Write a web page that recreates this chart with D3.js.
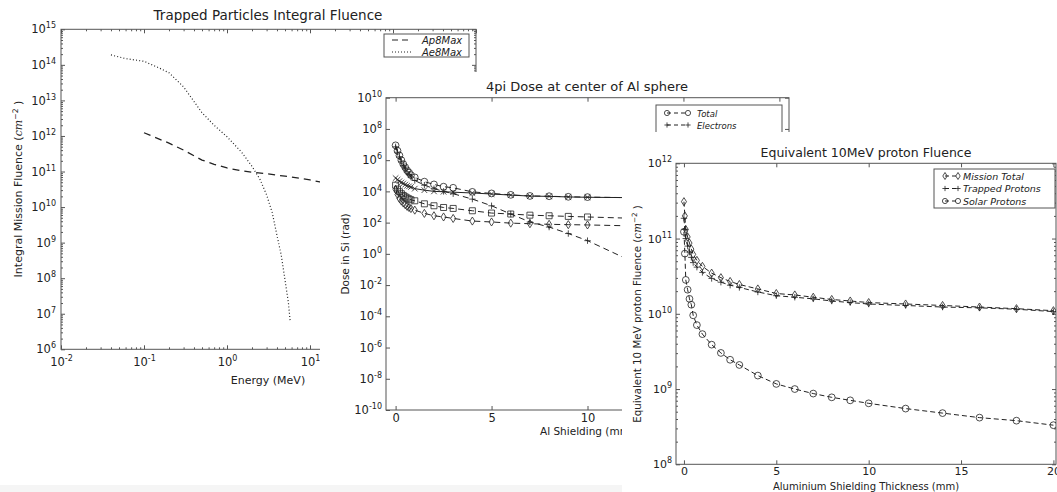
<!DOCTYPE html>
<html>
<head>
<meta charset="utf-8">
<script src="https://cdn.jsdelivr.net/npm/d3@7"></script>
<style>
body { margin: 0; background: #fff; }
svg { display: block; font-family: "DejaVu Sans", sans-serif; }
</style>
</head>
<body>
<svg id="fig" width="1057" height="492"></svg>
<script>
// ---- panel 1: trapped particles integral fluence ----
var electronEnergy = [0.04, 0.06, 0.1, 0.15, 0.2, 0.3, 0.5, 0.7, 1.0, 1.5, 2.0, 2.5, 3.0, 3.5, 4.0, 4.5, 5.0, 5.5, 5.75];
var ae8Fluence = [1.9e14, 1.5e14, 1.26e14, 8.3e13, 6.0e13, 2.4e13, 4.5e12, 2.0e12, 9.5e11, 3.5e11, 1.4e11, 6.0e10, 2.2e10, 7.1e9, 1.6e9, 4.5e8, 8.9e7, 2.0e7, 6.6e6];
var protonEnergy = [0.1, 0.15, 0.2, 0.3, 0.5, 0.7, 1, 1.5, 2, 3, 4, 5, 7, 10, 15, 20];
var ap8Fluence = [1.23e12, 8.3e11, 6.3e11, 4.0e11, 2.1e11, 1.6e11, 1.26e11, 1.05e11, 9.5e10, 8.7e10, 7.9e10, 7.4e10, 6.6e10, 5.8e10, 4.8e10, 4.3e10];

// ---- panel 2: 4pi dose at center of Al sphere ----
var doseThickness = [0, 0.1, 0.2, 0.3, 0.4, 0.5, 0.6, 0.7, 0.8, 1, 1.5, 2, 2.5, 3, 4, 5, 6, 7, 8, 9, 10, 12, 14, 16, 18, 20];
var doseTotal = [8.9e6, 4.0e6, 2.0e6, 1.0e6, 5.6e5, 3.5e5, 2.2e5, 1.6e5, 1.1e5, 7.9e4, 4.2e4, 2.8e4, 2.0e4, 1.7e4, 9.3e3, 7.4e3, 6.0e3, 5.1e3, 4.9e3, 4.5e3, 4.3e3, 4.0e3, 3.7e3, 3.5e3, 3.4e3, 3.2e3];
var doseElectrons = [7.1e6, 3.2e6, 1.6e6, 7.9e5, 4.5e5, 2.8e5, 1.8e5, 1.2e5, 8.3e4, 5.0e4, 2.5e4, 1.5e4, 1.0e4, 7.1e3, 3.2e3, 1.2e3, 355, 110, 52, 20, 7.0, 0.5, 0.05, 0.0063, 0.001, 0.00016];
var doseProtons = [7.1e4, 5.6e4, 4.5e4, 3.7e4, 3.2e4, 2.7e4, 2.3e4, 2.1e4, 1.9e4, 1.5e4, 1.2e4, 1.0e4, 9.5e3, 8.9e3, 7.9e3, 6.8e3, 5.8e3, 5.0e3, 4.8e3, 4.4e3, 4.2e3, 4.0e3, 3.7e3, 3.5e3, 3.4e3, 3.2e3];
var doseSolar = [2.5e4, 1.4e4, 9.5e3, 7.1e3, 5.5e3, 4.5e3, 3.8e3, 3.3e3, 2.9e3, 2.5e3, 1.6e3, 1.2e3, 930, 810, 575, 410, 355, 300, 275, 250, 230, 195, 170, 150, 135, 120];
var doseBrems = [1.3e4, 6.3e3, 3.5e3, 2.4e3, 1.8e3, 1.4e3, 1.1e3, 930, 795, 630, 390, 275, 230, 185, 126, 110, 93, 85, 78, 74, 71, 63, 58, 52, 49, 46];

// ---- panel 3: equivalent 10MeV proton fluence ----
var eqThickness = [0, 0.05, 0.1, 0.2, 0.3, 0.4, 0.5, 0.7, 1, 1.5, 2, 2.5, 3, 4, 5, 6, 7, 8, 9, 10, 12, 14, 16, 18, 20];
var eqMission = [3.09e11, 2.0e11, 1.32e11, 1.05e11, 8.71e10, 7.24e10, 6.17e10, 5.13e10, 4.27e10, 3.47e10, 3.02e10, 2.69e10, 2.45e10, 2.14e10, 1.86e10, 1.78e10, 1.66e10, 1.55e10, 1.48e10, 1.41e10, 1.35e10, 1.29e10, 1.23e10, 1.17e10, 1.1e10];
var eqTrapped = [1.86e11, 1.32e11, 1.0e11, 7.94e10, 6.61e10, 5.62e10, 4.79e10, 4.17e10, 3.55e10, 2.95e10, 2.63e10, 2.4e10, 2.24e10, 1.95e10, 1.74e10, 1.66e10, 1.58e10, 1.48e10, 1.41e10, 1.35e10, 1.29e10, 1.23e10, 1.2e10, 1.15e10, 1.07e10];
var eqSolar = [1.23e11, 6.31e10, 2.82e10, 2.09e10, 1.58e10, 1.32e10, 9.55e9, 7.08e9, 5.37e9, 3.89e9, 3.02e9, 2.45e9, 2.09e9, 1.51e9, 1.17e9, 1.0e9, 8.71e8, 7.76e8, 7.08e8, 6.46e8, 5.5e8, 4.79e8, 4.17e8, 3.8e8, 3.31e8];

var svg = d3.select("#fig");
var ink = "#222";

function markerPath(shape, s) {
    if (shape === "square") return "M" + (-s) + "," + (-s) + "H" + s + "V" + s + "H" + (-s) + "Z";
    if (shape === "diamond") return "M0," + (-s * 1.35) + "L" + (s * 0.85) + ",0L0," + (s * 1.35) + "L" + (-s * 0.85) + ",0Z";
    if (shape === "plus") return "M" + (-s) + ",0H" + s + "M0," + (-s) + "V" + s;
    if (shape === "x") return "M" + (-s) + "," + (-s) + "L" + s + "," + s + "M" + (-s) + "," + s + "L" + s + "," + (-s);
    return "M" + s + ",0A" + s + "," + s + " 0 1,1 " + (-s) + ",0A" + s + "," + s + " 0 1,1 " + s + ",0Z";
}

function powers(lo, hi, step) {
    var out = [];
    for (var e = lo; e <= hi; e += step) out.push(Math.pow(10, e));
    return out;
}
function minorPowers(lo, hi) {
    var out = [];
    for (var e = lo; e < hi; e++)
        for (var m = 2; m <= 9; m++) out.push(m * Math.pow(10, e));
    return out;
}

function supText(sel, exp) {
    sel.text(null);
    sel.append("tspan").text("10");
    sel.append("tspan").attr("dy", -5).attr("font-size", 8).text(exp);
}

function styleAxis(g, size) {
    g.attr("font-family", null).attr("font-size", size || 11.5).style("color", "#555");
    g.select(".domain").remove();
    g.selectAll(".tick text").attr("fill", ink);
}

// draws ticks on all four sides and the frame
function drawAxes(g, x, y, opt) {
    var xr = x.range(), yr = y.range();
    var bottom = yr[0], top = yr[1], left = xr[0], right = xr[1];

    var xb = g.append("g").attr("transform", "translate(0," + bottom + ")")
        .call(d3.axisBottom(x).tickValues(opt.xMajor).tickSize(-4).tickPadding(opt.xPad).tickFormat(opt.xFmt || d3.format("d")));
    styleAxis(xb, opt.font);
    if (opt.xLog) xb.selectAll(".tick text").each(function(d) { supText(d3.select(this), Math.round(Math.log10(d))); });
    var xt = g.append("g").attr("transform", "translate(0," + top + ")")
        .call(d3.axisTop(x).tickValues(opt.xMajor).tickSize(-4).tickFormat(""));
    styleAxis(xt);

    var yl = g.append("g").attr("transform", "translate(" + left + ",0)")
        .call(d3.axisLeft(y).tickValues(opt.yMajor).tickSize(-4).tickPadding(opt.yPad));
    styleAxis(yl, opt.font);
    yl.selectAll(".tick text").each(function(d) { supText(d3.select(this), Math.round(Math.log10(d))); });
    var yrt = g.append("g").attr("transform", "translate(" + right + ",0)")
        .call(d3.axisRight(y).tickValues(opt.yMajor).tickSize(-4).tickFormat(""));
    styleAxis(yrt);

    if (opt.xMinor) {
        styleAxis(g.append("g").attr("transform", "translate(0," + bottom + ")")
            .call(d3.axisBottom(x).tickValues(opt.xMinor).tickSize(-2).tickFormat("")));
        styleAxis(g.append("g").attr("transform", "translate(0," + top + ")")
            .call(d3.axisTop(x).tickValues(opt.xMinor).tickSize(-2).tickFormat("")));
    }
    if (opt.yMinor) {
        styleAxis(g.append("g").attr("transform", "translate(" + left + ",0)")
            .call(d3.axisLeft(y).tickValues(opt.yMinor).tickSize(-2).tickFormat("")));
        styleAxis(g.append("g").attr("transform", "translate(" + right + ",0)")
            .call(d3.axisRight(y).tickValues(opt.yMinor).tickSize(-2).tickFormat("")));
    }

    g.append("rect")
        .attr("x", left).attr("y", top)
        .attr("width", right - left).attr("height", bottom - top)
        .attr("fill", "none").attr("stroke", "#555").attr("stroke-width", 1);
}

function drawSeries(g, xs, ys, x, y, opt) {
    var pts = xs.map(function(v, i) { return [x(v), y(ys[i])]; });
    g.append("path")
        .attr("d", d3.line()(pts))
        .attr("fill", "none")
        .attr("stroke", ink)
        .attr("stroke-width", opt.width || 1)
        .attr("stroke-dasharray", opt.dash || null);
    if (opt.marker) {
        g.selectAll(null).data(pts).enter().append("path")
            .attr("transform", function(d) { return "translate(" + d[0] + "," + d[1] + ")"; })
            .attr("d", markerPath(opt.marker, opt.size))
            .attr("fill", "none")
            .attr("stroke", ink)
            .attr("stroke-width", 0.8);
    }
}

function drawLegend(g, box, items) {
    g.append("rect").attr("x", box.x).attr("y", box.y).attr("width", box.w).attr("height", box.h)
        .attr("fill", "#fff").attr("stroke", "#555");
    items.forEach(function(it, i) {
        var yy = box.y + box.first + i * box.step;
        g.append("line").attr("x1", box.lx0).attr("x2", box.lx1).attr("y1", yy).attr("y2", yy)
            .attr("stroke", ink).attr("stroke-width", 1).attr("stroke-dasharray", it.dash || null);
        if (it.marker) {
            [box.lx0, box.lx1].forEach(function(px) {
                g.append("path").attr("transform", "translate(" + px + "," + yy + ")")
                    .attr("d", markerPath(it.marker, 2.6)).attr("fill", "none").attr("stroke", ink).attr("stroke-width", 0.8);
            });
        }
        g.append("text").attr("x", box.tx).attr("y", yy + 3.5).attr("font-size", box.font)
            .attr("font-style", "italic").attr("fill", ink).text(it.label);
    });
}

function yLabel(g, cx, cy, size, parts) {
    var t = g.append("text").attr("transform", "translate(" + cx + "," + cy + ") rotate(-90)")
        .attr("text-anchor", "middle").attr("font-size", size).attr("fill", ink).attr("dy", "0.35em");
    t.append("tspan").text(parts[0]);
    if (parts.length > 1) {
        t.append("tspan").attr("font-style", "italic").attr("font-family", "DejaVu Serif").text("cm");
        t.append("tspan").attr("dy", -4).attr("font-size", size * 0.7).text("\u22122");
        t.append("tspan").attr("dy", 4).text(" )");
    }
}

// ================= panel 1 =================
var g1 = svg.append("g");
var x1 = d3.scaleLog().domain([1e-2, 1e3]).range([61, 476]);
var y1 = d3.scaleLog().domain([1e6, 1e15]).range([349.3, 29.3]);
g1.append("defs").append("clipPath").attr("id", "clip1").append("rect")
    .attr("x", 61).attr("y", 29.3).attr("width", 415).attr("height", 320);
drawAxes(g1, x1, y1, {
    xMajor: powers(-2, 3, 1), xMinor: minorPowers(-2, 3), xLog: true, xPad: 9,
    yMajor: powers(6, 15, 1), yMinor: minorPowers(6, 15), yPad: 5
});
var p1 = g1.append("g").attr("clip-path", "url(#clip1)");
drawSeries(p1, protonEnergy, ap8Fluence, x1, y1, { dash: "7,5", width: 1.3 });
drawSeries(p1, electronEnergy, ae8Fluence, x1, y1, { dash: "1,2.2", width: 1.2 });
drawLegend(g1, { x: 384, y: 34, w: 85, h: 23, first: 6, step: 12, lx0: 392, lx1: 412, tx: 422, font: 10 }, [
    { label: "Ap8Max", dash: "6,4" },
    { label: "Ae8Max", dash: "1,2" }
]);
g1.append("text").attr("x", 268).attr("y", 20).attr("text-anchor", "middle")
    .attr("font-size", 13.5).attr("fill", ink).text("Trapped Particles Integral Fluence");
g1.append("text").attr("x", 268).attr("y", 384).attr("text-anchor", "middle")
    .attr("font-size", 11).attr("fill", ink).text("Energy (MeV)");
yLabel(g1, 18, 189, 11, ["Integral Mission Fluence (", "cm"]);

// ================= panel 2 =================
var g2 = svg.append("g");
g2.append("rect").attr("x", 320).attr("y", 72).attr("width", 737).attr("height", 420).attr("fill", "#fff");
var x2 = d3.scaleLinear().domain([-0.5, 20.5]).range([386, 789]);
var y2 = d3.scaleLog().domain([1e-10, 1e10]).range([410, 97.7]);
g2.append("defs").append("clipPath").attr("id", "clip2").append("rect")
    .attr("x", 386).attr("y", 97.7).attr("width", 403).attr("height", 312.3);
drawAxes(g2, x2, y2, {
    xMajor: [0, 5, 10, 15, 20], xPad: 4,
    yMajor: powers(-10, 10, 2), yPad: 4
});
var p2 = g2.append("g").attr("clip-path", "url(#clip2)");
drawSeries(p2, doseThickness, doseProtons, x2, y2, { marker: "x", size: 2.8 });
drawSeries(p2, doseThickness, doseTotal, x2, y2, { dash: "6,4", marker: "circle", size: 3.4 });
drawSeries(p2, doseThickness, doseElectrons, x2, y2, { dash: "6,4", marker: "plus", size: 3.2 });
drawSeries(p2, doseThickness, doseSolar, x2, y2, { dash: "6,4", marker: "square", size: 3 });
drawSeries(p2, doseThickness, doseBrems, x2, y2, { dash: "6,4", marker: "diamond", size: 3 });
drawLegend(g2, { x: 656, y: 105, w: 126, h: 66, first: 8, step: 12, lx0: 667, lx1: 688, tx: 697, font: 8.5 }, [
    { label: "Total", dash: "4,3", marker: "circle" },
    { label: "Electrons", dash: "4,3", marker: "plus" },
    { label: "Protons", marker: "x" },
    { label: "Solar Protons", dash: "4,3", marker: "square" },
    { label: "Bremsstrahlung", dash: "4,3", marker: "diamond" }
]);
g2.append("text").attr("x", 587).attr("y", 91).attr("text-anchor", "middle")
    .attr("font-size", 13).attr("fill", ink).text("4pi Dose at center of Al sphere");
g2.append("text").attr("x", 587).attr("y", 435).attr("text-anchor", "middle")
    .attr("font-size", 10.5).attr("fill", ink).text("Al Shielding (mm)");
yLabel(g2, 345, 254, 10.5, ["Dose in Si (rad)"]);

// light strip at the bottom edge of the screenshot
svg.append("rect").attr("x", 0).attr("y", 485).attr("width", 622).attr("height", 7).attr("fill", "#f5f5f5");

// ================= panel 3 =================
var g3 = svg.append("g");
g3.append("rect").attr("x", 622).attr("y", 132).attr("width", 435).attr("height", 360).attr("fill", "#fff");
var x3 = d3.scaleLinear().domain([-0.43, 20.14]).range([676, 1056]);
var y3 = d3.scaleLog().domain([1e8, 1e12]).range([464.3, 163.3]);
g3.append("defs").append("clipPath").attr("id", "clip3").append("rect")
    .attr("x", 676).attr("y", 163.3).attr("width", 380).attr("height", 301);
drawAxes(g3, x3, y3, {
    xMajor: [0, 5, 10, 15, 20], xPad: 3, font: 11,
    yMajor: powers(8, 12, 1), yMinor: minorPowers(8, 12), yPad: 4
});
var p3 = g3.append("g").attr("clip-path", "url(#clip3)");
drawSeries(p3, eqThickness, eqMission, x3, y3, { dash: "5,3", marker: "diamond", size: 3 });
drawSeries(p3, eqThickness, eqTrapped, x3, y3, { dash: "5,3", marker: "plus", size: 3.2 });
drawSeries(p3, eqThickness, eqSolar, x3, y3, { dash: "5,3", marker: "circle", size: 3.4 });
drawLegend(g3, { x: 934, y: 169, w: 121, h: 39, first: 7, step: 12.5, lx0: 945, lx1: 958, tx: 963, font: 9.5 }, [
    { label: "Mission Total", dash: "4,3", marker: "diamond" },
    { label: "Trapped Protons", dash: "4,3", marker: "plus" },
    { label: "Solar Protons", dash: "4,3", marker: "circle" }
]);
g3.append("text").attr("x", 866).attr("y", 157).attr("text-anchor", "middle")
    .attr("font-size", 12.5).attr("fill", ink).text("Equivalent 10MeV proton Fluence");
g3.append("text").attr("x", 866).attr("y", 489.5).attr("text-anchor", "middle")
    .attr("font-size", 10).attr("fill", ink).text("Aluminium Shielding Thickness (mm)");
yLabel(g3, 637, 314, 10.3, ["Equivalent 10 MeV proton Fluence (", "cm"]);
</script>
</body>
</html>
